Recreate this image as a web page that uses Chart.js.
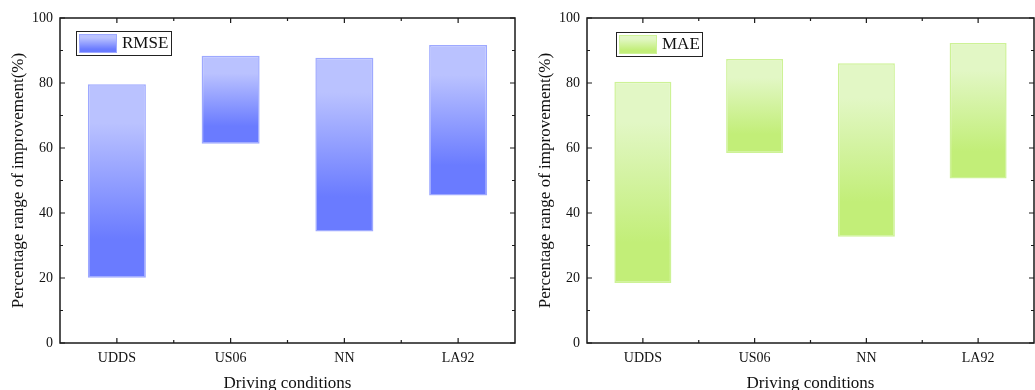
<!DOCTYPE html>
<html>
<head>
<meta charset="utf-8">
<script src="https://cdn.jsdelivr.net/npm/chart.js@4.4.1/dist/chart.umd.min.js"></script>
<style>
  html, body { margin: 0; padding: 0; background: #fff; }
  #wrap { position: relative; width: 1035px; height: 390px; overflow: hidden; }
  #left { position: absolute; left: 0; top: 0; }
  #right { position: absolute; left: 520px; top: 0; }
</style>
</head>
<body>
<div id="wrap">
  <canvas id="left" width="520" height="390"></canvas>
  <canvas id="right" width="515" height="390"></canvas>
</div>
<script>
const categories = ['UDDS', 'US06', 'NN', 'LA92'];
const rmseLow = [20.1, 61.3, 34.3, 45.4];
const rmseHigh = [79.6, 88.4, 87.8, 91.7];
const maeLow = [18.5, 58.5, 32.7, 50.6];
const maeHigh = [80.4, 87.4, 86.1, 92.3];
const yTickValues = [0, 20, 40, 60, 80, 100];

const FONT = "'Liberation Serif', 'Times New Roman', serif";

// vertical gradient inside one bar, light on top
const makeGradient = (ctx, top, bottom, light, dark) => {
  const g = ctx.createLinearGradient(0, top, 0, bottom);
  g.addColorStop(0, light);
  g.addColorStop(0.2, light);
  g.addColorStop(0.8, dark);
  g.addColorStop(1, dark);
  return g;
};

// box + inward ticks on all four sides, plus the legend box
const framePlugin = {
  id: 'frame',
  afterDraw(chart, args, opts) {
    const { ctx, chartArea: a, scales: { x, y } } = chart;
    ctx.save();
    ctx.strokeStyle = '#1a1a1a';
    ctx.lineWidth = 1.5;
    ctx.strokeRect(a.left, a.top, a.right - a.left, a.bottom - a.top);

    ctx.lineWidth = 1.2;
    ctx.beginPath();
    yTickValues.forEach(v => {
      const py = y.getPixelForValue(v);
      ctx.moveTo(a.left, py); ctx.lineTo(a.left + 5, py);
      ctx.moveTo(a.right, py); ctx.lineTo(a.right - 5, py);
      if (v < 100) {
        const pm = y.getPixelForValue(v + 10);
        ctx.moveTo(a.left, pm); ctx.lineTo(a.left + 3, pm);
        ctx.moveTo(a.right, pm); ctx.lineTo(a.right - 3, pm);
      }
    });
    categories.forEach((c, i) => {
      const px = x.getPixelForValue(i);
      ctx.moveTo(px, a.bottom); ctx.lineTo(px, a.bottom - 5);
      ctx.moveTo(px, a.top); ctx.lineTo(px, a.top + 5);
      if (i < categories.length - 1) {
        const pm = (px + x.getPixelForValue(i + 1)) / 2;
        ctx.moveTo(pm, a.bottom); ctx.lineTo(pm, a.bottom - 3);
        ctx.moveTo(pm, a.top); ctx.lineTo(pm, a.top + 3);
      }
    });
    ctx.stroke();

    // legend
    const L = opts.legend;
    ctx.lineWidth = 1;
    ctx.strokeStyle = '#222';
    ctx.strokeRect(L.x + 0.5, L.y + 0.5, L.w, L.h);
    const sx = L.x + 3, sy = L.y + 3, sw = 38, sh = L.h - 5;
    ctx.fillStyle = makeGradient(ctx, sy, sy + sh, opts.light, opts.dark);
    ctx.fillRect(sx, sy, sw, sh);
    ctx.strokeStyle = opts.border;
    ctx.strokeRect(sx + 0.5, sy + 0.5, sw - 1, sh - 1);
    ctx.fillStyle = '#111';
    ctx.font = '17px ' + FONT;
    ctx.textBaseline = 'middle';
    ctx.textAlign = 'left';
    ctx.fillText(chart.data.datasets[0].label, sx + sw + 5, L.y + L.h / 2 + 1);
    ctx.restore();
  }
};

function buildChart(canvasId, label, low, high, light, dark, border, yWidth, titlePad, legendBox, rightPad) {
  return new Chart(document.getElementById(canvasId), {
    type: 'bar',
    data: {
      labels: categories,
      datasets: [{
        label: label,
        data: categories.map((c, i) => [low[i], high[i]]),
        backgroundColor: (ctx) => {
          const chart = ctx.chart;
          if (!chart.chartArea || !ctx.raw) return light;
          const yS = chart.scales.y;
          return makeGradient(chart.ctx, yS.getPixelForValue(ctx.raw[1]), yS.getPixelForValue(ctx.raw[0]), light, dark);
        },
        borderColor: border,
        borderWidth: 1.5,
        borderSkipped: false,
        categoryPercentage: 1,
        barPercentage: 0.51
      }]
    },
    options: {
      responsive: false,
      animation: false,
      devicePixelRatio: 1,
      layout: { padding: { top: 18, right: rightPad, left: 0, bottom: 0 } },
      plugins: {
        legend: { display: false },
        tooltip: { enabled: false },
        frame: { legend: legendBox, light: light, dark: dark, border: border }
      },
      scales: {
        x: {
          grid: { display: false, drawTicks: false },
          border: { display: false },
          ticks: { color: '#111', padding: 7, font: { family: FONT, size: 14 } },
          title: {
            display: true, text: 'Driving conditions', color: '#111',
            font: { family: FONT, size: 17, lineHeight: 1 }, padding: { top: 0, bottom: -2 }
          },
          afterFit: (s) => { s.height = 47; }
        },
        y: {
          min: 0, max: 100,
          grid: { display: false, drawTicks: false },
          border: { display: false },
          ticks: { stepSize: 20, color: '#111', padding: 7, font: { family: FONT, size: 14 } },
          title: {
            display: true, text: 'Percentage range of improvement(%)', color: '#111',
            font: { family: FONT, size: 17, lineHeight: 1 }, padding: { top: titlePad, bottom: 0 }
          },
          afterFit: (s) => { s.width = yWidth; }
        }
      }
    },
    plugins: [framePlugin]
  });
}

buildChart('left', 'RMSE', rmseLow, rmseHigh, '#bac2ff', '#6a7bff', '#9ea9ff', 60, 10.5,
  { x: 76, y: 31, w: 95, h: 24 }, 5);
buildChart('right', 'MAE', maeLow, maeHigh, '#e2f7c5', '#c2ee78', '#cdf296', 67, 17.5,
  { x: 96, y: 32, w: 86, h: 24 }, 1);
</script>
</body>
</html>
